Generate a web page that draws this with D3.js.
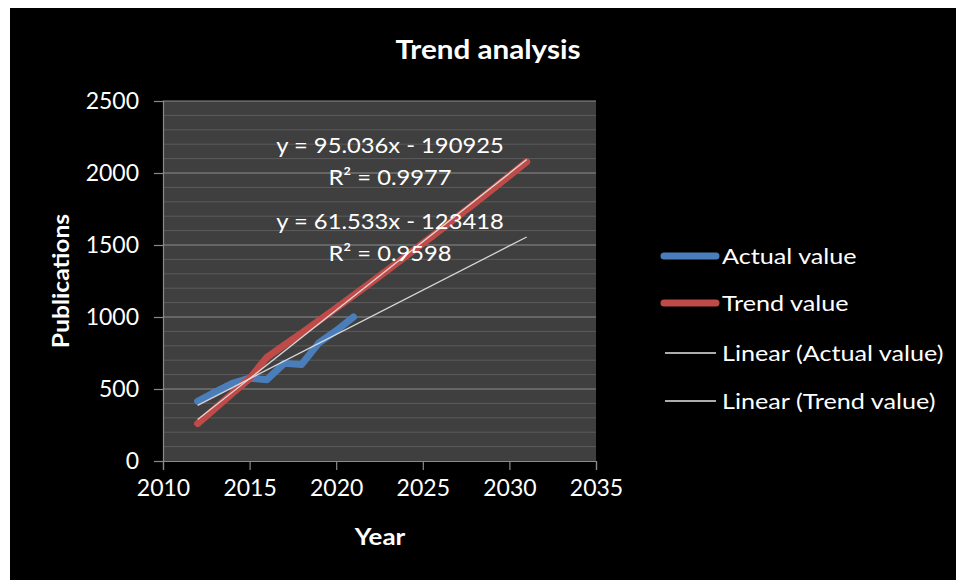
<!DOCTYPE html>
<html>
<head>
<meta charset="utf-8">
<script src="https://cdn.jsdelivr.net/npm/d3@7"></script>
<style>
  html, body { margin: 0; padding: 0; background: #ffffff; }
  svg { display: block; }
  text { font-family: Lato, "Open Sans", sans-serif; fill: #ffffff; }
</style>
</head>
<body>
<svg id="chart" width="956" height="580"></svg>
<script>
// ---- data ----
const actualYears  = [2012, 2013, 2014, 2015, 2016, 2017, 2018, 2019, 2020, 2021];
const actualValues = [415, 478, 540, 575, 565, 678, 670, 820, 905, 1000];

const trendYears  = [2012, 2013, 2014, 2015, 2016, 2017, 2018, 2019, 2020, 2021,
                     2022, 2023, 2024, 2025, 2026, 2027, 2028, 2029, 2030, 2031];
const trendValues = [260, 364, 469, 573, 720, 804, 889, 975, 1062, 1150,
                     1239, 1329, 1420, 1511, 1603, 1696, 1790, 1885, 1981, 2078];

const seriesNames = ["Actual value", "Trend value"];
const fitNames    = ["Linear (Actual value)", "Linear (Trend value)"];
const fitSlopes     = [61.533, 95.036];
const fitIntercepts = [-123418, -190925];
const fitR2         = [0.9598, 0.9977];
const fitSpan       = [2012, 2031];

const xTicks = [2010, 2015, 2020, 2025, 2030, 2035];
const yTicks = [0, 500, 1000, 1500, 2000, 2500];
const yMinorTicks = d3.range(0, 2501, 100);

// ---- layout ----
const W = 956, H = 580;
const plot = { left: 163, right: 596, top: 101, bottom: 461 };
const colors = { actual: "#4A7EBB", trend: "#BE4B48", fit: "#E6E6E6" };

const svg = d3.select("#chart");

// text placed at (x, y), widened horizontally by `sx`
function label(px, py, str, opts) {
  const o = Object.assign({ size: 22, weight: "normal", anchor: "middle", sx: 1, rotate: 0 }, opts);
  return svg.append("text")
    .attr("transform", `translate(${px},${py}) rotate(${o.rotate}) scale(${o.sx},1)`)
    .attr("text-anchor", o.anchor)
    .style("font-size", o.size + "px")
    .style("font-weight", o.weight)
    .text(str);
}

// chart frame
svg.append("rect").attr("x", 10).attr("y", 8)
  .attr("width", W - 10).attr("height", H - 8).attr("fill", "#000000");

const x = d3.scaleLinear().domain([2010, 2035]).range([plot.left, plot.right]);
const y = d3.scaleLinear().domain([0, 2500]).range([plot.bottom, plot.top]);

// plot area
svg.append("rect")
  .attr("x", plot.left).attr("y", plot.top)
  .attr("width", plot.right - plot.left).attr("height", plot.bottom - plot.top)
  .attr("fill", "#3F3F3F");

// minor gridlines
svg.append("g").selectAll("line")
  .data(yMinorTicks.filter(v => !yTicks.includes(v)))
  .join("line")
  .attr("x1", plot.left).attr("x2", plot.right)
  .attr("y1", d => y(d)).attr("y2", d => y(d))
  .attr("stroke", "#5C5C5C").attr("stroke-width", 1);

// major gridlines
svg.append("g").selectAll("line")
  .data(yTicks.filter(v => v > 0))
  .join("line")
  .attr("x1", plot.left).attr("x2", plot.right)
  .attr("y1", d => y(d)).attr("y2", d => y(d))
  .attr("stroke", "#8E8E8E").attr("stroke-width", 1.2);

// axes
const axisColor = "#8A8A8A";
const yAxis = svg.append("g")
  .attr("transform", `translate(${plot.left},0)`)
  .call(d3.axisLeft(y).tickValues(yTicks).tickSize(9).tickPadding(15).tickFormat(d3.format("d")));
const xAxis = svg.append("g")
  .attr("transform", `translate(0,${plot.bottom})`)
  .call(d3.axisBottom(x).tickValues(xTicks).tickSize(9).tickPadding(10).tickFormat(d3.format("d")));

[yAxis, xAxis].forEach(g => {
  g.select(".domain").attr("stroke", axisColor).attr("stroke-width", 1.2);
  g.selectAll(".tick line").attr("stroke", axisColor).attr("stroke-width", 1.2);
  g.selectAll(".tick text")
    .attr("fill", "#ffffff")
    .style("font-family", "Lato, 'Open Sans', sans-serif")
    .style("font-size", "23px");
});

// series lines
const line = d3.line().x(d => x(d[0])).y(d => y(d[1]));

[[actualYears, actualValues, colors.actual], [trendYears, trendValues, colors.trend]]
  .forEach(([xs, vs, c]) => {
    svg.append("path")
      .datum(d3.zip(xs, vs))
      .attr("d", line)
      .attr("fill", "none")
      .attr("stroke", c)
      .attr("stroke-width", 7)
      .attr("stroke-linecap", "round")
      .attr("stroke-linejoin", "round");
  });

// linear fits, drawn from their stated equations
fitSlopes.forEach((m, i) => {
  const pts = fitSpan.map(yr => [yr, m * yr + fitIntercepts[i]]);
  svg.append("path")
    .datum(pts)
    .attr("d", line)
    .attr("fill", "none")
    .attr("stroke", colors.fit)
    .attr("stroke-opacity", 0.9)
    .attr("stroke-width", 1.3);
});

// fit equation labels (trend fit above, actual fit below)
const eqX = 390;
const eqBaselines = [[229, 261], [153, 185]];
fitSlopes.forEach((m, i) => {
  label(eqX, eqBaselines[i][0], `y = ${m}x - ${Math.abs(fitIntercepts[i])}`, { size: 22, sx: 1.08 });
  label(eqX, eqBaselines[i][1], `R² = ${fitR2[i]}`, { size: 22, sx: 1.08 });
});

// titles
label(488, 59, "Trend analysis", { size: 26, weight: "bold", sx: 1.14 });
label(380, 545, "Year", { size: 22, weight: "bold", sx: 1.18 });
label(69, 281, "Publications", { size: 22, weight: "bold", sx: 1.12, rotate: -90 });

// legend
const legendRows = [
  { name: seriesNames[0], color: colors.actual, width: 7, cy: 256 },
  { name: seriesNames[1], color: colors.trend, width: 7, cy: 303 },
  { name: fitNames[0], color: colors.fit, width: 1.3, cy: 353 },
  { name: fitNames[1], color: colors.fit, width: 1.3, cy: 401 }
];
legendRows.forEach(r => {
  const thick = r.width > 2;
  svg.append("line")
    .attr("x1", thick ? 664 : 665).attr("x2", 716)
    .attr("y1", r.cy).attr("y2", r.cy)
    .attr("stroke", r.color).attr("stroke-width", r.width)
    .attr("stroke-linecap", thick ? "round" : "butt");
  label(722, r.cy + 8, r.name, { size: 21, anchor: "start", sx: 1.2 });
});
</script>
</body>
</html>
